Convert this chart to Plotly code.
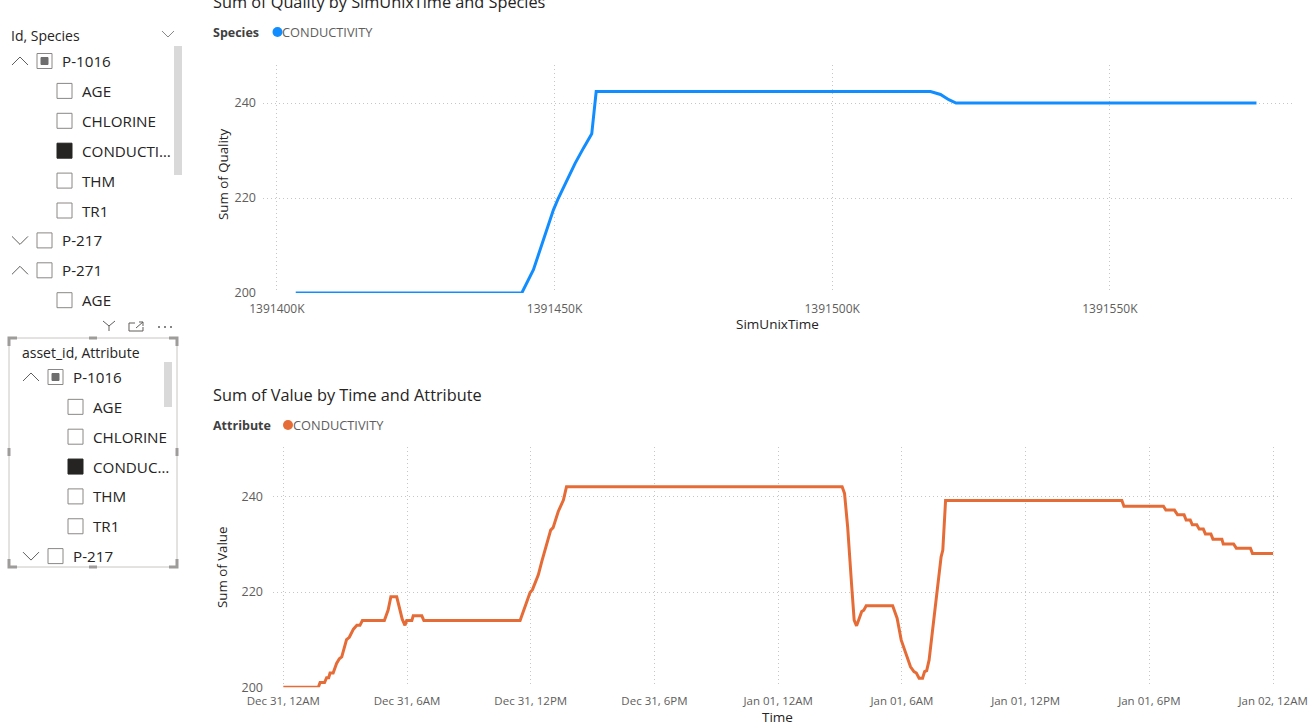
import plotly.graph_objects as go

W, H = 1310, 722
FONT = "Open Sans"

# ---------------- data ----------------
# Top chart: Sum of Quality by SimUnixTime (SimUnixTime in thousands)
sim_unix_time_k = [1391403.4, 1391444.1, 1391446.2, 1391449.8, 1391450.7, 1391452.2,
                   1391453.7, 1391455.2, 1391456.7, 1391457.5, 1391517.7, 1391519.5,
                   1391521.0, 1391522.3, 1391576.4]
sum_of_quality = [200, 200, 204.9, 217.5, 220, 223.8, 227.3, 230.5, 233.5, 242.4,
                  242.4, 241.8, 240.7, 240, 240]
species_name = "CONDUCTIVITY"

# Bottom chart: Sum of Value by Time
time_values = [
    "2018-12-31 00:00", "2018-12-31 01:42", "2018-12-31 01:47", "2018-12-31 02:00",
    "2018-12-31 02:06", "2018-12-31 02:12", "2018-12-31 02:16", "2018-12-31 02:25",
    "2018-12-31 02:35", "2018-12-31 02:43", "2018-12-31 02:50", "2018-12-31 03:04",
    "2018-12-31 03:12", "2018-12-31 03:24", "2018-12-31 03:34", "2018-12-31 03:43",
    "2018-12-31 03:50", "2018-12-31 04:54", "2018-12-31 05:05", "2018-12-31 05:13",
    "2018-12-31 05:30", "2018-12-31 05:40", "2018-12-31 05:46", "2018-12-31 05:54",
    "2018-12-31 05:59", "2018-12-31 06:14", "2018-12-31 06:18", "2018-12-31 06:43",
    "2018-12-31 06:49", "2018-12-31 11:29", "2018-12-31 11:43", "2018-12-31 11:58",
    "2018-12-31 12:05", "2018-12-31 12:22", "2018-12-31 12:32", "2018-12-31 12:51",
    "2018-12-31 12:58", "2018-12-31 13:05", "2018-12-31 13:20", "2018-12-31 13:35",
    "2018-12-31 13:44", "2019-01-01 03:06", "2019-01-01 03:13", "2019-01-01 03:22",
    "2019-01-01 03:28", "2019-01-01 03:34", "2019-01-01 03:41", "2019-01-01 03:48",
    "2019-01-01 03:56", "2019-01-01 04:03", "2019-01-01 04:09", "2019-01-01 04:16",
    "2019-01-01 05:33", "2019-01-01 05:46", "2019-01-01 05:58", "2019-01-01 06:10",
    "2019-01-01 06:25", "2019-01-01 06:35", "2019-01-01 06:42", "2019-01-01 06:50",
    "2019-01-01 07:00", "2019-01-01 07:06", "2019-01-01 07:12", "2019-01-01 07:19",
    "2019-01-01 07:28", "2019-01-01 07:38", "2019-01-01 07:46", "2019-01-01 07:54",
    "2019-01-01 07:59", "2019-01-01 08:02", "2019-01-01 08:07", "2019-01-01 16:40",
    "2019-01-01 16:46", "2019-01-01 18:41", "2019-01-01 18:48", "2019-01-01 19:13",
    "2019-01-01 19:22", "2019-01-01 19:41", "2019-01-01 19:47", "2019-01-01 19:59",
    "2019-01-01 20:05", "2019-01-01 20:18", "2019-01-01 20:25", "2019-01-01 20:37",
    "2019-01-01 20:43", "2019-01-01 20:59", "2019-01-01 21:05", "2019-01-01 21:31",
    "2019-01-01 21:35", "2019-01-01 22:05", "2019-01-01 22:13", "2019-01-01 22:54",
    "2019-01-01 23:00", "2019-01-02 00:00",
]
sum_of_value = [
    200, 200, 201, 201, 202, 202, 203, 203, 205, 206, 206.4, 210, 210.5, 212.2, 213,
    213, 214, 214, 216.2, 219, 219, 216.2, 214.3, 213, 214, 214, 215, 215, 214, 214,
    216.9, 219.9, 220.5, 223.6, 226.4, 230.9, 233, 233.5, 236.9, 239.3, 242.1, 242.1,
    240.7, 233.7, 226.7, 221.1, 214.1, 212.9, 214.5, 215.9, 216.2, 217.1, 217.1, 214.5,
    209.9, 207.5, 204.3, 203.3, 203.0, 201.9, 201.9, 203.3, 203.5, 205.7, 211.3, 218.3,
    223.2, 227.4, 228.8, 233.7, 239.2, 239.2, 238.0, 238.0, 237.2, 237.2, 236.2, 236.2,
    235.1, 235.1, 234.1, 234.1, 233.2, 233.2, 232.2, 232.2, 231.1, 231.1, 230.1, 230.1,
    229.2, 229.2, 228.1, 228.1,
]
attribute_name = "CONDUCTIVITY"

y_ticks = [200, 220, 240]
quality_x_ticks = [1391400, 1391450, 1391500, 1391550]
quality_x_labels = ["1391400K", "1391450K", "1391500K", "1391550K"]

# Slicers: (label, level, state, expanded)
slicer1_header = "Id, Species"
slicer1_items = [("P-1016", 0, "partial", True), ("AGE", 1, "off", None),
                 ("CHLORINE", 1, "off", None), ("CONDUCTI…", 1, "on", None),
                 ("THM", 1, "off", None), ("TR1", 1, "off", None),
                 ("P-217", 0, "off", False), ("P-271", 0, "off", True),
                 ("AGE", 1, "off", None)]
slicer2_header = "asset_id, Attribute"
slicer2_items = [("P-1016", 0, "partial", True), ("AGE", 1, "off", None),
                 ("CHLORINE", 1, "off", None), ("CONDUC…", 1, "on", None),
                 ("THM", 1, "off", None), ("TR1", 1, "off", None),
                 ("P-217", 0, "off", False)]

BLUE = "#118DFF"
ORANGE = "#E66C37"
GRID = "#C8C6C4"
TICK = "#605E5C"
DARK = "#252423"


def X(x):
    return x / W


def Y(y):
    return 1 - y / H


fig = go.Figure()
fig.add_trace(go.Scatter(x=sim_unix_time_k, y=sum_of_quality, mode="lines",
                         line=dict(color=BLUE, width=3), xaxis="x", yaxis="y",
                         name=species_name, showlegend=False))
fig.add_trace(go.Scatter(x=time_values, y=sum_of_value, mode="lines",
                         line=dict(color=ORANGE, width=3), xaxis="x2", yaxis="y2",
                         name=attribute_name, showlegend=False))

axis_common = dict(showgrid=True, gridcolor=GRID, griddash="1px,3px", gridwidth=1,
                   zeroline=False, showline=False, ticks="", automargin=False)


def tf(size):
    return dict(family=FONT, size=size, color=TICK)


fig.update_layout(
    template="none",
    width=W, height=H, margin=dict(l=0, r=0, t=0, b=0, pad=0),
    paper_bgcolor="white", plot_bgcolor="white", showlegend=False,
    font=dict(family=FONT, color=DARK),
    xaxis=dict(domain=[X(263), X(1292)], range=[1391397.5, 1391582.8],
               tickvals=quality_x_ticks, ticktext=quality_x_labels,
               tickfont=tf(12), ticklabelstandoff=7,
               anchor="y", **axis_common),
    yaxis=dict(domain=[Y(293), Y(65)], range=[200, 248], tickvals=y_ticks,
               tickfont=tf(12.5), ticklabelstandoff=6,
               anchor="x", **axis_common),
    xaxis2=dict(domain=[X(273), X(1281)], type="date",
                range=["2018-12-30 23:30", "2019-01-02 00:23"],
                tick0="2018-12-31 00:00", dtick=6 * 3600 * 1000,
                tickformat="%b %d, %-I%p", tickfont=tf(11.5), ticklabelstandoff=5,
                anchor="y2", **axis_common),
    yaxis2=dict(domain=[Y(687.3), Y(446.7)], range=[200, 250.5], tickvals=y_ticks,
                tickfont=tf(12.5), ticklabelstandoff=9,
                anchor="x2", **axis_common),
)

ann = []


def text(x, y, s, size=12, color=DARK, anchor="left", angle=0, yanchor="middle"):
    ann.append(dict(x=X(x), y=Y(y), xref="paper", yref="paper", text=s,
                    showarrow=False, xanchor=anchor, yanchor=yanchor,
                    textangle=angle, borderpad=0,
                    font=dict(family=FONT, size=size, color=color)))


shapes = []


def line(x0, y0, x1, y1, color=TICK, width=1):
    shapes.append(dict(type="line", xref="paper", yref="paper", x0=X(x0), y0=Y(y0),
                       x1=X(x1), y1=Y(y1), line=dict(color=color, width=width)))


def rect(x0, y0, x1, y1, color=TICK, fill="rgba(0,0,0,0)", width=1):
    shapes.append(dict(type="rect", xref="paper", yref="paper", x0=X(x0), y0=Y(y0),
                       x1=X(x1), y1=Y(y1), fillcolor=fill,
                       line=dict(color=color, width=width)))


def dot(cx, cy, r, color):
    shapes.append(dict(type="circle", xref="paper", yref="paper",
                       x0=X(cx - r), x1=X(cx + r), y0=Y(cy + r), y1=Y(cy - r),
                       fillcolor=color, line=dict(width=0)))


def path(pts, color=TICK, width=1):
    d = "M" + " L".join(f"{X(a):.5f},{Y(b):.5f}" for a, b in pts)
    shapes.append(dict(type="path", xref="paper", yref="paper", path=d,
                       line=dict(color=color, width=width)))


# chart titles, legends, axis titles
text(212, 2, "Sum of Quality by SimUnixTime and Species", size=16.3)
text(212, 32, "<b>Species</b>", size=12.5, color="#404040")
dot(277.5, 32, 5, BLUE)
text(281, 32, species_name, size=12.8, color=TICK)
text(223, 175, "Sum of Quality", size=13.3, anchor="center", angle=-90)
text(777, 324, "SimUnixTime", size=13.5, anchor="center")

text(212, 395, "Sum of Value by Time and Attribute", size=16.3)
text(212, 425, "<b>Attribute</b>", size=12.5, color="#404040")
dot(288, 425, 5, ORANGE)
text(292, 425, attribute_name, size=12.8, color=TICK)
text(222, 567, "Sum of Value", size=13.3, anchor="center", angle=-90)
text(777, 717, "Time", size=13.5, anchor="center")


def slicer(items, header, hx, hy, x0, row0, step):
    text(hx, hy, header, size=14)
    for i, (label, level, state, expanded) in enumerate(items):
        yc = row0 + i * step
        cx = x0 + level * 20
        if level == 0:
            if expanded:
                path([(x0 - 25, yc + 4), (x0 - 17, yc - 4), (x0 - 9, yc + 4)])
            else:
                path([(x0 - 25, yc - 4), (x0 - 17, yc + 4), (x0 - 9, yc - 4)])
        if state == "on":
            rect(cx, yc - 7.5, cx + 15, yc + 7.5, color=DARK, fill=DARK)
        else:
            rect(cx, yc - 7.5, cx + 15, yc + 7.5, color="#8A8886", fill="white")
            if state == "partial":
                rect(cx + 4, yc - 3.5, cx + 11, yc + 3.5, color="#6E6E6E",
                     fill="#6E6E6E")
        text(cx + 24, yc, label, size=15.2)


# top slicer
slicer(slicer1_items, slicer1_header, 10, 36, 37, 61, 29.9)
path([(162, 31), (168, 37), (174, 31)], color="#8A8886")
rect(174, 46, 182, 175, color="#D9D9D9", fill="#D9D9D9", width=0)

# bottom slicer frame and handles
rect(9, 338, 177, 567, color="#C8C6C4", width=1)
HC = "#9E9C9A"
for (cx, cy, dx, dy) in [(9, 338, 1, 1), (177, 338, -1, 1), (9, 567, 1, -1),
                         (177, 567, -1, -1)]:
    path([(cx + dx * 8, cy), (cx, cy), (cx, cy + dy * 8)], color=HC, width=3)
line(89, 338, 97, 338, color=HC, width=3)
line(89, 567, 97, 567, color=HC, width=3)
line(9, 448, 9, 456, color=HC, width=3)
line(177, 448, 177, 456, color=HC, width=3)
slicer(slicer2_items, slicer2_header, 21, 352, 48, 377, 29.85)
rect(164, 362, 172, 407, color="#D9D9D9", fill="#D9D9D9", width=0)

# header icons (filter, focus, more)
path([(103, 321), (109, 326), (115, 321)])
line(109, 326, 109, 331)
path([(135, 323), (129, 323), (129, 331), (143, 331), (143, 327)])
path([(136, 328), (143, 322)])
path([(139, 322), (143, 322), (143, 326)])
for dx in (159, 165, 171):
    dot(dx, 327, 1, TICK)

fig.update_layout(annotations=ann, shapes=shapes)
fig.write_html("out.html")
